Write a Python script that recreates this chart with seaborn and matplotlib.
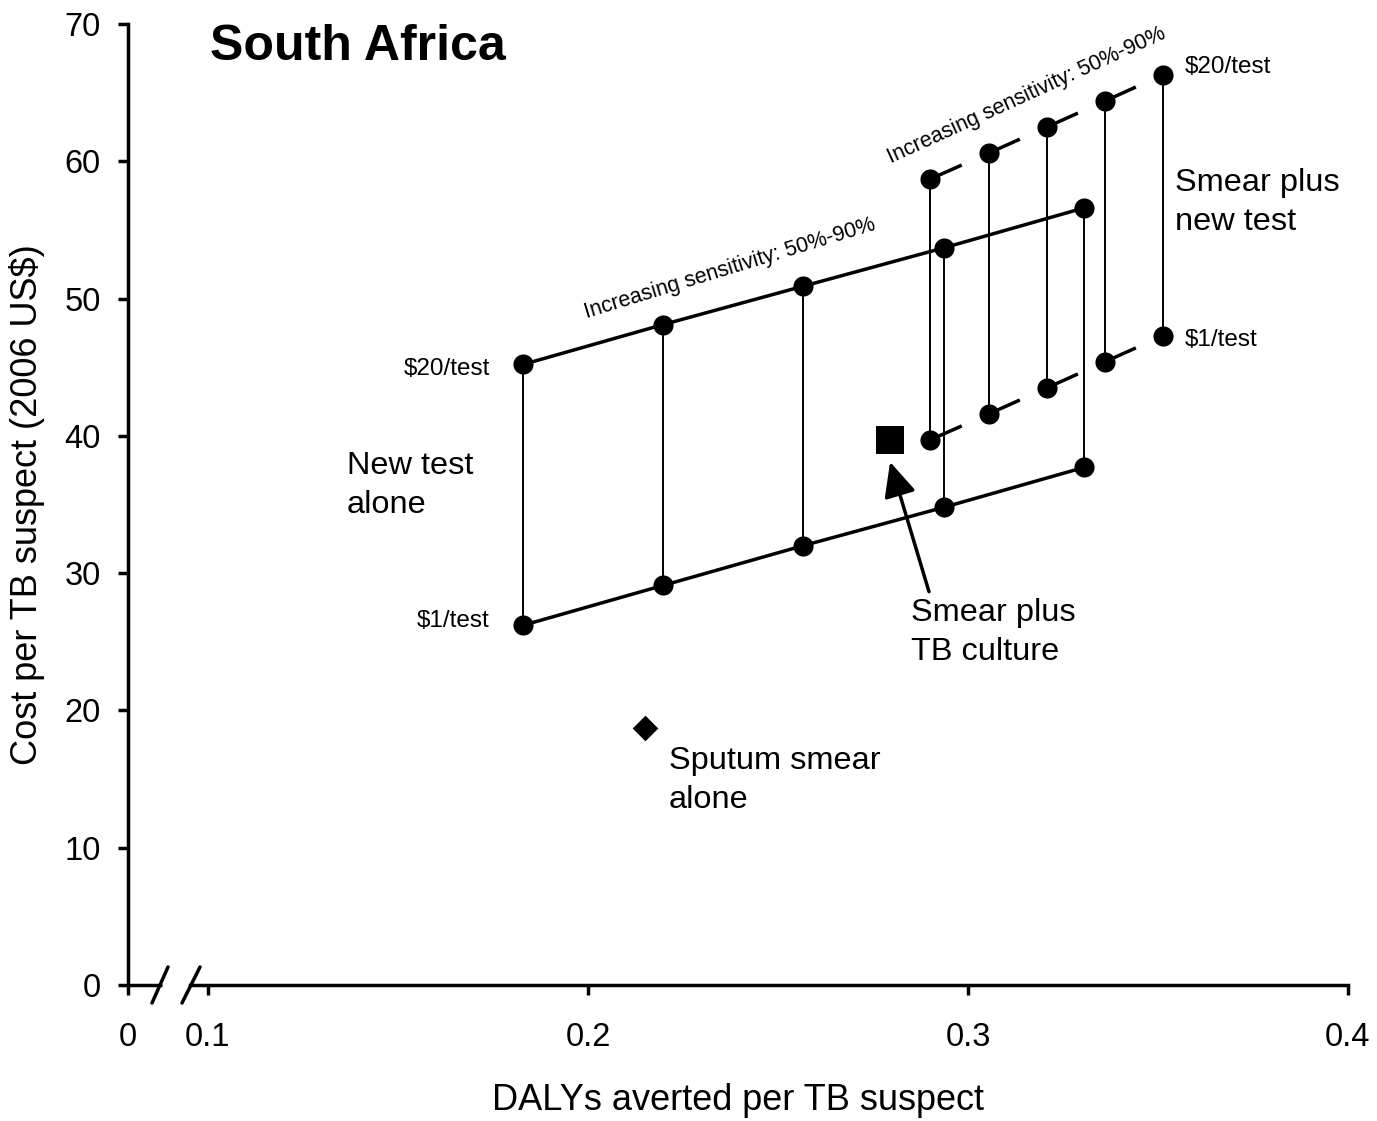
import numpy as np
import pandas as pd
import matplotlib
matplotlib.use("Agg")
import matplotlib.pyplot as plt
import matplotlib.transforms as mtransforms
import seaborn as sns

# ---------------- data ----------------
# New test alone (5 sensitivity levels 50%..90%)
new_x = [0.1829, 0.2197, 0.2566, 0.2937, 0.3305]
new_cost_20 = [45.2, 48.1, 50.9, 53.7, 56.6]
new_cost_1 = [26.2, 29.1, 32.0, 34.8, 37.7]

# Smear plus new test
smr_x = [0.2900, 0.3055, 0.3208, 0.3361, 0.3513]
smr_cost_20 = [58.7, 60.6, 62.5, 64.4, 66.3]
smr_cost_1 = [39.7, 41.6, 43.5, 45.4, 47.3]

# Single strategies
culture_x, culture_y = [0.2795], [39.7]
smear_x, smear_y = [0.2150], [18.7]

x_tick_vals = [0.1, 0.2, 0.3, 0.4]
x_tick_labels = ["0", "0.1", "0.2", "0.3", "0.4"]
y_ticks = [0, 10, 20, 30, 40, 50, 60, 70]

# ---------------- style ----------------
sns.set_theme(style="ticks")
plt.rcParams["font.family"] = ["Liberation Sans", "DejaVu Sans"]
K = "black"
for key in ("text.color", "axes.labelcolor", "xtick.color", "ytick.color",
            "axes.edgecolor"):
    plt.rcParams[key] = K

W, H, DPI = 1377, 1121, 100
fig = plt.figure(figsize=(W / DPI, H / DPI), dpi=DPI)
ax = fig.add_axes([128 / W, 1 - 985 / H, (1348 - 128) / W, (985 - 24) / H])

# x of "0" on the broken axis: 80 px left of 0.1, 380 px per 0.1
x_zero = 0.1 - 80 / 3800
ax.set_xlim(x_zero, 0.4)
ax.set_ylim(0, 70)

LW = 2.5
THIN = 1.4

df_new = pd.DataFrame({"x": new_x * 2,
                       "y": new_cost_20 + new_cost_1,
                       "grp": ["20"] * 5 + ["1"] * 5})
df_smr = pd.DataFrame({"x": smr_x * 2,
                       "y": smr_cost_20 + smr_cost_1,
                       "grp": ["20"] * 5 + ["1"] * 5})

# verticals
ax.vlines(new_x, new_cost_1, new_cost_20, color=K, lw=THIN, zorder=2)
ax.vlines(smr_x, smr_cost_1, smr_cost_20, color=K, lw=THIN, zorder=2)

# solid lines for new test alone
sns.lineplot(data=df_new, x="x", y="y", units="grp", estimator=None,
             sort=False, color=K, lw=LW, ax=ax, zorder=3)

# dashed lines for smear + new test
seg_pt = 45.8
on_pt, off_pt = 25.0, seg_pt - 25.0
for ys in (smr_cost_20, smr_cost_1):
    ax.plot(smr_x, ys, color=K, lw=LW, dashes=(on_pt / LW, off_pt / LW),
            dash_capstyle="butt", zorder=3)

# points
sns.scatterplot(data=df_new, x="x", y="y", color=K, s=210, marker="o",
                edgecolor=K, linewidth=0, ax=ax, zorder=4)
sns.scatterplot(data=df_smr, x="x", y="y", color=K, s=210, marker="o",
                edgecolor=K, linewidth=0, ax=ax, zorder=4)
sns.scatterplot(x=culture_x, y=culture_y, color=K, s=430, marker="s",
                edgecolor=K, linewidth=0, ax=ax, zorder=4)
sns.scatterplot(x=smear_x, y=smear_y, color=K, s=170, marker="D",
                edgecolor=K, linewidth=0, ax=ax, zorder=4)

# ---------------- text ----------------
BIG = 23.4
SMALL = 17.5
SENS = 15.5
LS = 1.4
ax.text(0.1005, 68.3, "South Africa", fontsize=36, fontweight="bold",
        va="center", ha="left")
ax.text(0.1742, 44.9, "$20/test", fontsize=SMALL, ha="right", va="center")
ax.text(0.1742, 26.5, "$1/test", fontsize=SMALL, ha="right", va="center")
ax.text(0.3571, 66.9, "$20/test", fontsize=SMALL, ha="left", va="center")
ax.text(0.3571, 47.0, "$1/test", fontsize=SMALL, ha="left", va="center")
ax.text(0.1366, 36.4, "New test\nalone", fontsize=BIG, ha="left", va="center",
        linespacing=LS)
ax.text(0.3545, 57.0, "Smear plus\nnew test", fontsize=BIG, ha="left",
        va="center", linespacing=LS)
ax.text(0.2213, 14.9, "Sputum smear\nalone", fontsize=BIG, ha="left",
        va="center", linespacing=LS)
ax.annotate("Smear plus\nTB culture", xy=(culture_x[0], culture_y[0] - 1.6),
            xytext=(0.285, 25.7), fontsize=BIG, ha="left", va="center",
            linespacing=LS,
            arrowprops=dict(arrowstyle="-|>,head_length=0.9,head_width=0.42",
                            color=K, lw=2.5, shrinkA=2, shrinkB=0,
                            relpos=(0.12, 1.0)))
ax.text(0.2374, 52.2, "Increasing sensitivity: 50%-90%", fontsize=SENS,
        rotation=17, ha="center", va="center", rotation_mode="anchor")
ax.text(0.3153, 64.8, "Increasing sensitivity: 50%-90%", fontsize=SENS,
        rotation=24.5, ha="center", va="center", rotation_mode="anchor")

# ---------------- axes ----------------
ax.set_xticks([x_zero] + x_tick_vals)
ax.set_xticklabels(x_tick_labels)
ax.set_yticks(y_ticks)
ax.tick_params(axis="both", labelsize=23.5, width=LW, length=7.5, color=K,
               direction="out")
ax.tick_params(axis="y", pad=12)
ax.tick_params(axis="x", pad=19)
ax.set_xlabel("DALYs averted per TB suspect", fontsize=26, labelpad=22)
ax.set_ylabel("Cost per TB suspect (2006 US$)", fontsize=26, labelpad=14)
sns.despine(ax=ax)
for s in ("left", "bottom"):
    ax.spines[s].set_linewidth(LW)
    ax.spines[s].set_color(K)

# axis break
px = 1 / 3800  # data units per pixel along x
ax.spines["bottom"].set_bounds(0.1 - 18 * px, 0.4)
trans = mtransforms.blended_transform_factory(ax.transData, ax.transAxes)
ax.plot([x_zero, 0.1 - 46 * px], [0, 0], color=K, lw=LW, clip_on=False,
        transform=trans, solid_capstyle="butt")
dy = 18 / (985 - 24)
for x_a, x_b in ((0.1 - 56 * px, 0.1 - 40 * px), (0.1 - 26 * px, 0.1 - 8 * px)):
    ax.plot([x_a, x_b], [-dy, dy], color=K, lw=LW, clip_on=False,
            transform=trans)

ax.set_facecolor("white")
fig.patch.set_facecolor("white")
fig.savefig("out.png", dpi=DPI)
